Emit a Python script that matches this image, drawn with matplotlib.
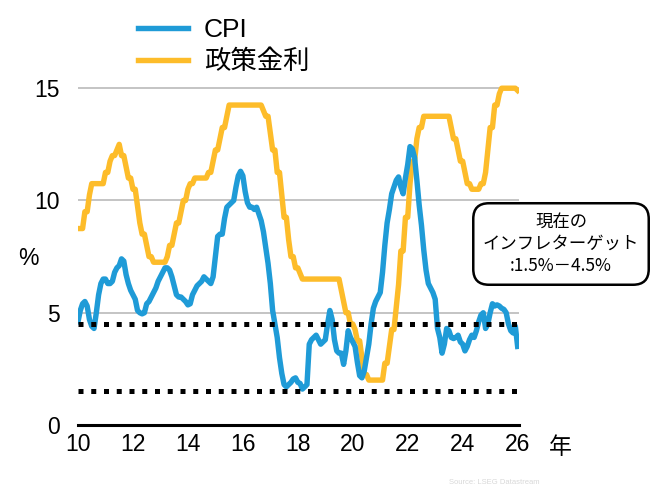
"""
Brazil CPI vs policy rate (monthly, 2010-2026), with inflation target band.
"""
import numpy as np
import matplotlib
matplotlib.use('Agg')
import matplotlib.pyplot as plt

plt.rcParams['font.family'] = ['Liberation Sans', 'Noto Sans CJK JP', 'DejaVu Sans']

# ---- data (monthly from Jan 2010) ----
start_year = 2010
cpi = [
    4.6, 5.1, 5.4, 5.5, 5.3, 4.7, 4.4, 4.3, 5.0, 5.8, 6.3, 6.5,        # 2010
    6.5, 6.3, 6.3, 6.4, 6.8, 7.0, 7.1, 7.4, 7.3, 6.7, 6.3, 6.0,        # 2011
    5.8, 5.6, 5.1, 5.0, 4.95, 5.0, 5.4, 5.5, 5.7, 5.9, 6.1, 6.4,       # 2012
    6.6, 6.8, 7.0, 7.0, 6.9, 6.6, 6.2, 5.8, 5.7, 5.7, 5.6, 5.5,        # 2013
    5.35, 5.4, 5.8, 6.0, 6.2, 6.3, 6.4, 6.6, 6.5, 6.4, 6.3, 6.6,       # 2014
    7.5, 8.4, 8.5, 8.5, 9.2, 9.7, 9.8, 9.9, 10.0, 10.6, 11.1, 11.3,    # 2015
    11.1, 10.4, 9.9, 9.7, 9.7, 9.6, 9.7, 9.4, 9.1, 8.6, 7.9, 7.2,      # 2016
    6.3, 5.1, 4.5, 3.9, 3.0, 2.3, 1.8, 1.7, 1.8, 1.9, 2.05, 2.1,       # 2017
    1.9, 1.85, 1.6, 1.7, 1.8, 3.6, 3.8, 3.9, 4.0, 3.8, 3.6, 3.7,       # 2018
    3.8, 4.5, 5.1, 4.7, 3.8, 3.3, 3.2, 3.2, 2.7, 3.3, 4.2, 3.9,        # 2019
    3.7, 3.5, 2.8, 2.2, 2.1, 2.4, 3.0, 3.6, 4.5, 5.2, 5.5, 5.7,        # 2020
    5.9, 6.8, 8.0, 9.0, 9.6, 10.3, 10.6, 10.9, 11.05, 10.6, 10.3, 11.0,  # 2021
    11.6, 12.4, 12.3, 11.9, 10.9, 9.8, 8.9, 7.8, 6.9, 6.3, 6.1, 5.9,   # 2022
    5.6, 4.3, 3.9, 3.2, 3.6, 4.3, 4.2, 3.9, 3.85, 3.9, 4.0, 3.7,       # 2023
    3.6, 3.3, 3.5, 3.8, 4.0, 3.9, 4.2, 4.6, 4.9, 5.0, 4.3, 4.5,        # 2024
    5.0, 5.4, 5.3, 5.35, 5.3, 5.2, 5.15, 5.0, 4.5, 4.2, 4.1, 4.4,      # 2025
    3.5,                                                               # 2026
]
policy_rate = [
    8.75, 8.75, 8.75, 9.5, 9.5, 10.25, 10.75, 10.75, 10.75, 10.75, 10.75, 10.75,
    11.25, 11.25, 11.75, 12.0, 12.0, 12.25, 12.5, 12.0, 12.0, 11.5, 11.0, 11.0,
    10.5, 10.5, 9.75, 9.0, 8.5, 8.5, 8.0, 7.5, 7.5, 7.25, 7.25, 7.25,
    7.25, 7.25, 7.25, 7.5, 8.0, 8.0, 8.5, 9.0, 9.0, 9.5, 10.0, 10.0,
    10.5, 10.75, 10.75, 11.0, 11.0, 11.0, 11.0, 11.0, 11.0, 11.25, 11.25, 11.75,
    12.25, 12.25, 12.75, 13.25, 13.25, 13.75, 14.25, 14.25, 14.25, 14.25, 14.25, 14.25,
    14.25, 14.25, 14.25, 14.25, 14.25, 14.25, 14.25, 14.25, 14.25, 14.0, 13.75, 13.75,
    13.0, 12.25, 12.25, 11.25, 11.25, 10.25, 9.25, 9.25, 8.25, 7.5, 7.5, 7.0,
    7.0, 6.75, 6.5, 6.5, 6.5, 6.5, 6.5, 6.5, 6.5, 6.5, 6.5, 6.5,
    6.5, 6.5, 6.5, 6.5, 6.5, 6.5, 6.5, 6.0, 5.5, 5.0, 5.0, 4.5,
    4.5, 4.25, 3.75, 3.75, 3.0, 2.25, 2.25, 2.0, 2.0, 2.0, 2.0, 2.0,
    2.0, 2.0, 2.75, 2.75, 3.5, 4.25, 4.25, 5.25, 6.25, 7.75, 7.75, 9.25,
    9.25, 10.75, 11.75, 11.75, 12.75, 13.25, 13.25, 13.75, 13.75, 13.75, 13.75, 13.75,
    13.75, 13.75, 13.75, 13.75, 13.75, 13.75, 13.75, 13.25, 12.75, 12.75, 12.25, 11.75,
    11.75, 11.25, 10.75, 10.75, 10.5, 10.5, 10.5, 10.5, 10.75, 10.75, 11.25, 12.25,
    13.25, 13.25, 14.25, 14.25, 14.75, 15.0, 15.0, 15.0, 15.0, 15.0, 15.0, 15.0,
    14.9,
]
target_band = [1.5, 4.5]
x_ticks = [2010, 2012, 2014, 2016, 2018, 2020, 2022, 2024, 2026]
x_labels = ['10', '12', '14', '16', '18', '20', '22', '24', '26']
y_ticks = [0, 5, 10, 15]

months = start_year + np.arange(len(cpi)) / 12.0

BLUE = '#1F9BD7'
GOLD = '#FDBC2A'

fig = plt.figure(figsize=(6.54, 4.86), dpi=100)
ax = fig.add_axes([78 / 654, 61 / 486, 441 / 654, 359 / 486])

ax.plot(months, cpi, color=BLUE, linewidth=3.9, solid_joinstyle='round',
        label='CPI', zorder=4)
ax.plot(months, policy_rate, color=GOLD, linewidth=3.9, solid_joinstyle='round',
        label='政策金利', zorder=3)

for lvl in target_band:
    ax.plot([2010, 2026], [lvl, lvl], color='black', linewidth=3.6,
            linestyle=(0, (1, 1.55)), dash_capstyle='butt', zorder=5)

ax.set_xlim(2010, 2026.05)
ax.set_ylim(0, 15.99)
ax.set_xticks(x_ticks)
ax.set_xticklabels(x_labels)
ax.set_yticks(y_ticks)
ax.tick_params(axis='both', length=0, labelsize=16.5)
ax.tick_params(axis='y', pad=13)
ax.tick_params(axis='x', pad=6)
ax.yaxis.grid(True, color='#b4b4b4', linewidth=1.1)
ax.set_axisbelow(True)
for side in ['top', 'right', 'left']:
    ax.spines[side].set_visible(False)
ax.spines['bottom'].set_linewidth(2.2)
ax.spines['bottom'].set_color('black')

fig.legend(loc='upper left', bbox_to_anchor=(114 / 654, 1 + 6 / 486),
           frameon=False, fontsize=19, handlelength=1.9,
           handletextpad=0.6, labelspacing=0.3)

fig.text(28 / 654, 1 - 258 / 486, '%', fontsize=16.5, ha='center', va='center')
fig.text(560 / 654, 1 - 447 / 486, '年', fontsize=16.5, ha='center', va='center',
         family=['Noto Sans CJK JP'])

# target band note box
fig.text(561 / 654, 1 - 244 / 486, '現在の\nインフレターゲット\n:1.5%－4.5%',
         fontsize=12.5, ha='center', va='center', linespacing=1.3, zorder=6,
         family=['Noto Sans CJK JP', 'Liberation Sans'],
         bbox=dict(boxstyle='round,pad=0.55,rounding_size=0.9', fc='white',
                   ec='black', lw=1.8))

fig.text(494 / 654, 1 - 482 / 486, 'Source: LSEG Datastream', fontsize=5.5,
         color='#d8d8d8', ha='center', va='center')

fig.savefig('out.png', dpi=100)
